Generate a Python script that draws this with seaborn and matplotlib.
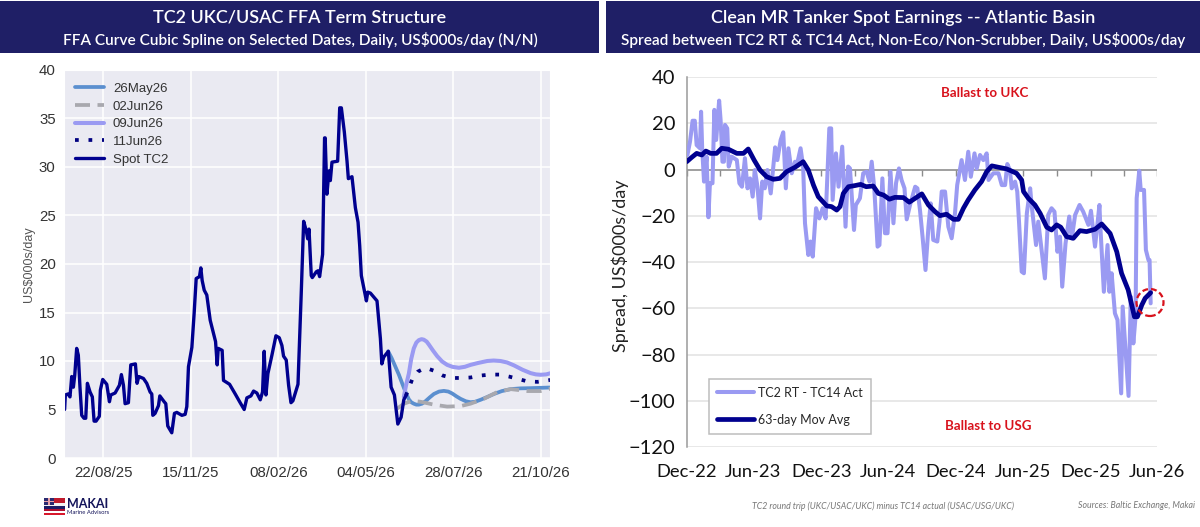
import numpy as np
import pandas as pd
import matplotlib
matplotlib.use("Agg")
import matplotlib.pyplot as plt
import matplotlib.dates as mdates
from matplotlib.patches import Rectangle, Ellipse
import seaborn as sns

# ---------- left chart data: days since 15 Jul 2025, US$000s/day ----------
LEFT_BASE = "2025-07-15"
spot_days = [0.6,1.3,3.9,5.8,7.5,9.1,10.4,12.3,13.9,15.5,17.2,19.4,21.1,22.7,25.3,27.5,29.2,31.1,34.3,35.3,37.6,41.5,44.1,45.4,49.6,53.8,55.7,57.7,59.3,62.5,64.8,69.3,70.9,72.6,77.1,80.3,83.6,85.2,86.2,88.4,91.7,93.0,97.2,98.8,100.7,104.6,107.2,109.5,114.4,117.6,119.2,120.8,124.1,126.3,128.3,131.5,132.8,134.1,136.1,138.6,141.9,147.1,148.7,149.7,153.5,154.8,160.7,166.2,171.0,174.9,177.5,181.4,184.0,187.2,190.5,192.7,194.3,196.0,197.9,201.8,205.7,208.9,211.5,213.1,215.7,218.0,220.3,222.2,227.1,230.3,232.6,235.2,236.5,237.8,240.0,241.0,244.9,246.5,248.1,251.0,252.9,253.5,255.2,257.2,258.5,260.1,265.6,267.6,269.2,272.1,274.7,276.0,279.5,282.8,285.4,287.0,288.6,293.5,294.8,297.4,303.8,307.1,308.5,310.3,314.8,317.5,320.7,324.0,327.2,329.8,331.7]
spot_vals = [5.0,6.5,6.6,6.3,8.4,7.3,8.5,11.3,10.6,7.3,4.4,4.1,4.1,7.7,6.8,6.3,3.8,3.8,4.3,7.0,8.1,7.6,5.8,6.5,6.7,7.5,8.6,7.5,5.6,5.7,9.6,9.7,7.7,8.4,8.2,7.7,6.8,6.6,4.4,4.6,5.4,6.4,5.8,5.6,3.3,2.6,4.6,4.7,4.4,4.5,5.3,9.4,11.4,14.9,18.5,18.7,19.6,18.3,17.3,16.8,14.2,12.0,9.6,11.3,11.1,8.0,7.6,6.6,5.7,5.0,6.2,6.4,6.9,6.7,6.0,6.8,11.0,6.5,8.7,10.6,12.6,12.4,11.6,10.5,10.1,7.5,5.7,5.9,7.6,17.1,24.4,23.4,22.6,23.6,18.8,18.6,19.2,19.3,18.7,21.0,33.0,33.0,27.2,29.6,28.6,30.5,30.6,36.1,36.1,33.6,30.6,28.8,29.0,25.8,24.3,21.9,18.8,16.2,17.1,17.0,16.2,12.3,9.7,10.4,11.0,7.3,6.5,3.5,4.2,6.0,6.4]
may26_days = [314.6,318,321.7,325,328.2,331.5,334.7,337,339.5,342,344.4,347.5,350.8,355,359,364,368.7,373,376.8,381,384.9,390,394.6,399,404.3,411,417.3,425,433.5,443,452.9,472.6]
may26_vals = [11.0,10.3,9.4,8.6,7.7,6.8,6.05,5.75,5.6,5.5,5.5,5.6,5.85,6.25,6.6,6.85,6.92,6.85,6.65,6.35,6.1,5.85,5.75,5.8,6.0,6.3,6.6,6.9,7.1,7.18,7.2,7.27]
jun02_days = [323.5,330.0,337.9,346.0,359.0,371.9,384.9,394.6,407.5,420.5,433.5,449.7,462.6,472.6]
jun02_vals = [5.1,5.6,5.9,5.8,5.5,5.3,5.35,5.6,6.1,6.8,7.1,6.9,6.9,7.15]
jun09_days = [329.8,332,334.7,337,339.5,342,344.4,347,349.2,352,354.1,358,362.2,367,371.9,377,383.2,389,394.6,402,410.8,417,423.7,430,436.7,445,452.9,458,462.6,468,472.6]
jun09_vals = [6.3,7.5,8.7,10.2,11.3,11.9,12.15,12.25,12.2,12.0,11.7,11.1,10.5,9.95,9.6,9.4,9.3,9.4,9.6,9.8,10.0,10.05,10.0,9.85,9.55,9.1,8.75,8.62,8.58,8.62,8.75]
jun11_days = [331.7,334.7,337.9,343.4,350.8,359.0,367.7,376.8,385.8,394.6,404.3,414.0,423.1,431.8,440.9,449.7,459.4,469.1,472.6]
jun11_vals = [6.4,7.2,8.1,8.9,9.3,9.0,8.5,8.25,8.25,8.3,8.5,8.6,8.6,8.4,8.15,7.9,7.85,8.0,8.05]
left_ticks = ["2025-08-22","2025-11-15","2026-02-08","2026-05-04","2026-07-28","2026-10-21"]
left_xlim = ["2025-07-15","2026-10-30"]

# ---------- right chart data: days since 31 Dec 2022, US$000s/day ----------
RIGHT_BASE = "2022-12-31"
spread_days = [2,9,16,22,27,36,39,42,47,54,59,63,70,75,80,84,88,92,97,101,104,110,114,122,136,143,150,158,165,172,179,185,192,199,205,212,219,228,240,246,255,262,269,276,285,294,300,309,316,321,330,336,342,351,360,369,377,387,392,396,405,412,422,431,438,443,454,459,470,479,488,496,502,509,518,523,531,538,545,553,561,568,576,583,591,597,606,620,626,633,640,648,656,662,669,680,686,692,701,710,719,728,734,746,755,764,771,781,787,796,805,814,819,832,846,855,864,870,877,882,891,897,902,909,915,923,932,936,948,954,972,981,990,998,1006,1013,1019,1028,1038,1045,1054,1066,1076,1090,1097,1108,1120,1122,1132,1142,1147,1153,1162,1169,1179,1183,1199,1205,1212,1218,1221,1228,1232,1241,1246,1253,1256,1259]
spread_vals = [6.3,12.1,21.1,21.1,10.6,9.2,25.0,9.2,-5.2,5.6,-20.6,-5.9,-5.9,25.8,12.8,21.4,29.8,21.4,3.4,3.4,19.3,17.8,1.3,5.6,4.1,-5.9,-7.4,4.9,-8.1,-3.8,-11.7,-0.2,-7.4,-21.1,-5.2,-8.1,-0.2,-10.3,9.6,4.1,12.8,16.1,-8.1,9.2,-1.6,3.4,2.7,9.2,1.3,-23.2,-36.9,-31.1,-37.6,-16.7,-21.1,-16.7,-21.1,17.8,17.8,-13.1,7.0,-7.4,9.9,-24.7,1.3,0.5,-26.1,-15.3,-12.4,-1.6,-0.9,-5.2,3.4,-8.1,-33.3,-32.6,-3.8,-27.5,-27.5,-0.9,-23.2,-5.9,0.5,-4.5,-8.1,-21.5,-15.3,-7.4,-8.1,-17.5,-29.0,-43.4,-24.7,-14.6,-30.4,-31.1,-22.5,-9.5,-9.5,-24.7,-29.7,-18.9,-6.7,4.1,-4.5,7.7,-3.1,7.0,0.5,6.3,4.1,7.0,-4.5,-1.6,-1.6,-6.7,-6.7,2.4,-0.2,-8.1,-5.2,-9.5,-23.2,-44.1,-44.8,-18.9,-8.1,-15.3,-32.6,-22.5,-47.0,-19.6,-16.7,-18.2,-35.5,-29.0,-50.6,-31.9,-20.3,-29.7,-19.6,-15.3,-18.2,-23.9,-17.8,-33.3,-15.3,-23.2,-52.8,-32.6,-52.8,-44.8,-62.1,-65.0,-96.7,-59.2,-97.8,-54.9,-75.1,-63.6,-12.4,-0.5,-8.8,-8.8,-34.7,-39.1,-39.1,-57.8]
mavg_days = [0,13,27,41,52,65,81,95,113,136,154,167,183,199,217,235,253,271,294,316,330,344,357,380,393,407,416,425,439,457,472,487,506,520,534,550,565,588,604,620,638,656,674,687,705,724,737,751,764,782,800,814,828,846,868,895,909,914,927,945,959,977,990,1004,1015,1031,1049,1067,1085,1108,1126,1149,1167,1180,1198,1215,1223,1235,1244,1259]
mavg_vals = [3.4,5.2,7.0,6.3,8.0,7.0,7.0,9.2,8.8,7.0,7.0,8.9,4.1,-0.2,-3.1,-4.2,-3.8,-0.9,1.0,3.4,-0.2,-6.7,-11.7,-15.7,-16.0,-17.5,-16.0,-10.3,-7.4,-6.9,-6.4,-7.4,-7.1,-10.3,-11.0,-12.8,-12.0,-12.1,-14.1,-12.4,-10.5,-15.3,-18.2,-19.9,-19.3,-21.5,-21.5,-16.7,-13.1,-8.8,-5.2,-0.9,1.6,1.0,0.3,-1.6,-4.5,-9.5,-12.4,-15.3,-18.9,-24.9,-26.1,-23.9,-24.9,-29.0,-29.7,-26.4,-26.8,-25.8,-23.5,-27.6,-35.5,-44.8,-52.0,-63.6,-63.6,-58.5,-55.6,-53.2]
right_xlim = ["2022-12-31","2026-06-30"]
right_yticks = [40,20,0,-20,-40,-60,-80,-100,-120]

W, H = 1200, 527
NAVY_BAR = "#1f1f66"

def frame(base, days, vals):
    return pd.DataFrame({"date": pd.to_datetime(base) + pd.to_timedelta(days, unit="D"), "value": vals})

def box(x0, y0, x1, y1):
    return [x0 / W, 1 - y1 / H, (x1 - x0) / W, (y1 - y0) / H]

sns.set_style("darkgrid")
plt.rcParams["font.family"] = ["Liberation Sans", "DejaVu Sans"]
fig = plt.figure(figsize=(12, 5.27), dpi=100, facecolor="white")

# header bars
for x0, x1 in [(0, 599), (606, 1200)]:
    fig.add_artist(Rectangle((x0 / W, 1 - 53 / H), (x1 - x0) / W, 52 / H, transform=fig.transFigure,
                             facecolor=NAVY_BAR, edgecolor="none"))
heads = [(300, "TC2 UKC/USAC FFA Term Structure", "FFA Curve Cubic Spline on Selected Dates, Daily, US$000s/day (N/N)"),
         (903, "Clean MR Tanker Spot Earnings -- Atlantic Basin", "Spread between TC2 RT & TC14 Act, Non-Eco/Non-Scrubber, Daily, US$000s/day")]
for cx, t1, t2 in heads:
    fig.text(cx / W, 1 - 17.5 / H, t1, ha="center", va="center", color="white", family="Lato", fontsize=13, fontweight="semibold")
    fig.text(cx / W, 1 - 39.5 / H, t2, ha="center", va="center", color="white", family="Lato", fontsize=11.1, fontweight="semibold")

# left chart
ax = fig.add_axes(box(64, 70, 550.3, 458))
curves = [(may26_days, may26_vals, "26May26", "#5b8fcf", "-", 2.7),
          (jun02_days, jun02_vals, "02Jun26", "#a8a8ae", (0, (4, 2)), 2.7),
          (jun09_days, jun09_vals, "09Jun26", "#9a9af2", "-", 2.9),
          (jun11_days, jun11_vals, "11Jun26", "#000080", (0, (1, 2.6)), 2.7),
          (spot_days, spot_vals, "Spot TC2", "#00008f", "-", 2.4)]
for days, vals, lab, col, ls, w in curves:
    sns.lineplot(data=frame(LEFT_BASE, days, vals), x="date", y="value", ax=ax, color=col, lw=w,
                 linestyle=ls, label=lab, estimator=None, sort=False, errorbar=None)
ax.set_xlim(pd.to_datetime(left_xlim[0]), pd.to_datetime(left_xlim[1]))
ax.set_ylim(0, 40)
ax.set_xticks(pd.to_datetime(left_ticks))
ax.xaxis.set_major_formatter(mdates.DateFormatter("%d/%m/%y"))
ax.set_yticks(range(0, 41, 5))
ax.tick_params(labelsize=10.8, labelcolor="#333333", length=0, pad=6)
ax.set_xlabel("")
ax.set_ylabel("US$000s/day", fontsize=9, color="#555555", labelpad=3)
ax.grid(True, color="white", lw=1.1)
ax.legend(loc="upper left", bbox_to_anchor=(0.0, 0.995), frameon=False, fontsize=9.5, labelcolor="#333333",
          labelspacing=0.42, handlelength=2.25, handletextpad=0.65, borderpad=0.3)

# right chart
ar = fig.add_axes(box(686.7, 77, 1157.3, 447.3), facecolor="white")
sns.lineplot(data=frame(RIGHT_BASE, spread_days, spread_vals), x="date", y="value", ax=ar, color="#9a9af2", lw=2.9,
             label="TC2 RT - TC14 Act", estimator=None, sort=False, errorbar=None, zorder=3)
sns.lineplot(data=frame(RIGHT_BASE, mavg_days, mavg_vals), x="date", y="value", ax=ar, color="#00008f", lw=3.4,
             label="63-day Mov Avg", estimator=None, sort=False, errorbar=None, zorder=4)
ar.set_xlim(pd.to_datetime(right_xlim[0]), pd.to_datetime(right_xlim[1]))
ar.set_ylim(-120, 40)
ar.set_yticks(right_yticks)
ar.grid(False)
ar.grid(True, axis="y", color="#e2e2e2", lw=1.1)
for s in ["top", "right", "bottom"]:
    ar.spines[s].set_visible(False)
ar.spines["left"].set_color("#9a9a9a")
ar.spines["left"].set_linewidth(1.1)
ar.axhline(0, color="#8c8c8c", lw=1.1, zorder=2)
ticks = pd.date_range(right_xlim[0], right_xlim[1], freq="3ME")
ar.set_xticks(ticks[::2])
ar.set_xticklabels([d.strftime("%b-%y") for d in ticks[::2]], family="Lato", fontsize=13.2, color="#111111")
ar.tick_params(axis="x", length=0, pad=12)
for t in ar.get_yticklabels():
    t.set_family("Lato"); t.set_fontsize(14.5); t.set_color("#111111")
ar.tick_params(axis="y", length=5, color="#9a9a9a", width=1, pad=3)
for d in ticks:
    ar.plot([d, d], [0, -2.6], color="#8c8c8c", lw=1, zorder=2, solid_capstyle="butt")
ar.set_xlabel("")
ar.set_ylabel("Spread, US$000s/day", family="Lato", fontsize=13, color="#222222")
ar.yaxis.set_label_coords((629 - 686.7) / 470.6, 0.49)
leg = ar.legend(loc="lower left", bbox_to_anchor=(0.047, 0.036), frameon=True, fancybox=False, edgecolor="#bdbdbd",
                facecolor="white", framealpha=1, prop={"family": "Lato", "size": 9}, labelspacing=1.2,
                handlelength=2.95, handletextpad=0.35, borderpad=0.65, borderaxespad=0)
leg.get_frame().set_linewidth(1.1)
leg.set_zorder(6)
fig.text(985 / W, 1 - 93 / H, "Ballast to UKC", color="#d8121c", family="Lato", fontsize=9.6, fontweight="bold", ha="center", va="center")
fig.text(988 / W, 1 - 426 / H, "Ballast to USG", color="#d8121c", family="Lato", fontsize=9.6, fontweight="bold", ha="center", va="center")
fig.add_artist(Ellipse((1150 / W, 1 - 302.5 / H), 27 / W, 27 / H, transform=fig.transFigure, fill=False,
                       edgecolor="#d8121c", lw=1.6, linestyle=(0, (2.6, 1.4)), zorder=10))

# footnotes
fig.text(1014 / W, 1 - 506 / H, "TC2 round trip (UKC/USAC/UKC) minus TC14 actual (USAC/USG/UKC)", ha="right", va="center",
         family="Lato", style="italic", fontsize=6.35, color="#777777")
fig.text(1195 / W, 1 - 506 / H, "Sources: Baltic Exchange, Makai", ha="right", va="center",
         family="Lato", style="italic", fontsize=6.35, color="#777777")

# logo
for y0, y1, c in [(497.5, 503, "#c01a2c"), (503, 505.5, "#f2f2f2"), (505.5, 508.5, "#1c1c66"), (508.5, 511, "#b01030"), (511, 512.5, "#ffffff"), (512.5, 515, "#d8182c")]:
    fig.add_artist(Rectangle((44 / W, 1 - y1 / H), 20.5 / W, (y1 - y0) / H, transform=fig.transFigure, facecolor=c, edgecolor="none"))
fig.add_artist(Rectangle((44 / W, 1 - 505 / H), 9.5 / W, 7.5 / H, transform=fig.transFigure, facecolor="#2a2a70", edgecolor="none"))
fig.add_artist(Rectangle((48 / W, 1 - 505 / H), 1.5 / W, 7.5 / H, transform=fig.transFigure, facecolor="#e8a0a8", edgecolor="none"))
fig.add_artist(Rectangle((44 / W, 1 - 502 / H), 9.5 / W, 1.5 / H, transform=fig.transFigure, facecolor="#e8a0a8", edgecolor="none"))
fig.text(67 / W, 1 - 503.5 / H, "MAKAI", family="Lato", fontweight="bold", fontsize=9, color="#14145a", ha="left", va="center")
fig.text(67 / W, 1 - 512 / H, "Marine Advisors", family="Lato", fontsize=4.2, color="#14145a", ha="left", va="center")

fig.savefig("out.png", dpi=100)
